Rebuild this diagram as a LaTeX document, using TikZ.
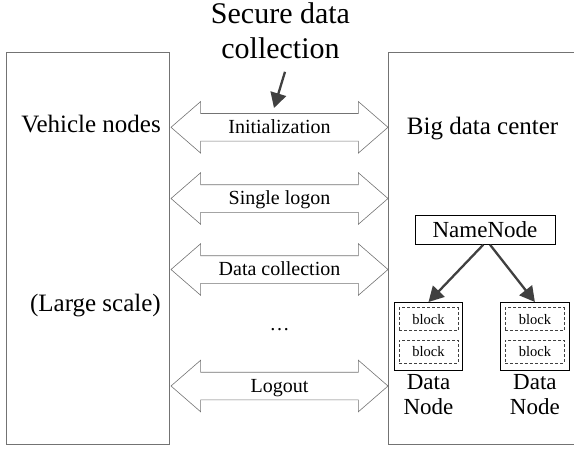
\documentclass[tikz,border=0pt]{standalone}
\usepackage{fontspec}
\setmainfont{Liberation Serif}
\usetikzlibrary{shapes.arrows,positioning,calc,arrows.meta}
\definecolor{boxgray}{rgb}{0.45,0.45,0.45}
\definecolor{arrowgray}{rgb}{0.25,0.25,0.25}

\begin{document}
\begin{tikzpicture}[x=1pt,y=-1pt,
  every node/.style={inner sep=0pt},
  side/.style={draw=boxgray,line width=0.8pt,minimum width=162.6pt,minimum height=392pt},
  pipe/.style={double arrow,draw=boxgray,line width=0.6pt,minimum height=217pt,
    double arrow head extend=12pt,double arrow tip angle=82,
    inner ysep=4.5pt,text height=15pt,text depth=3pt,font=\fontsize{20}{24}\selectfont},
  hdfs/.style={draw,line width=0.7pt},
  blockbox/.style={draw=arrowgray,line width=0.6pt,dash pattern=on 3pt off 2pt,
    minimum width=59pt,minimum height=23pt,font=\fontsize{14.5}{16}\selectfont},
  feed/.style={draw=arrowgray,line width=2.3pt,-{Triangle[length=15pt,width=16pt]}}]

\useasboundingbox (0,0) rectangle (574,451);

% the two sides
\node[side] (vehicle) at (88,248.4) {};
\node[side,minimum width=192pt] (center) at (484.3,248.4) {};

\node[anchor=base east,font=\fontsize{25}{30}\selectfont] (vn) at (161,132.7) {Vehicle nodes};
\node[anchor=base east,font=\fontsize{25}{30}\selectfont] (ls) at (161,311) {(Large scale)};
\node[anchor=base west,font=\fontsize{25}{30}\selectfont] (bdc) at (406.7,134) {Big data center};

% protocol phases
\node[pipe] (init) at (279.5,127.3) {Initialization};
\node[pipe] (logon) at (279.5,198.5) {Single logon};
\node[pipe] (collect) at (279.5,269.5) {Data collection};
\node[anchor=base,font=\fontsize{20}{24}\selectfont] (dots) at (279.5,330) {\dots};
\node[pipe] (logout) at (279.5,386) {Logout};

\node[align=center,anchor=north,font=\fontsize{30}{35}\selectfont] (title) at (280.5,2.5) {Secure data\\collection};
\draw[feed] ($(title.south)+(4.5,12.8)$) -- ($(init.center)+(-5.5,-19.3)$);

% hdfs inside the center
\node[hdfs,minimum width=140pt,minimum height=29.3pt,font=\fontsize{23}{26}\selectfont] (nn) at (485,229.7) {NameNode};
\node[hdfs,minimum width=68.4pt,minimum height=67.7pt] (dn1) at (428.5,336.2) {};
\node[hdfs,minimum width=68.4pt,minimum height=67.7pt] (dn2) at (534.9,336.2) {};
\node[blockbox,below=5.4pt of dn1.north] (blk1a) {block};
\node[blockbox,below=8.6pt of blk1a] (blk1b) {block};
\node[blockbox,below=5.4pt of dn2.north] (blk2a) {block};
\node[blockbox,below=8.6pt of blk2a] (blk2b) {block};
\node[align=center,font=\fontsize{23}{25}\selectfont,below=4pt of dn1] (dn1lbl) {Data\\Node};
\node[align=center,font=\fontsize{23}{25}\selectfont,below=4pt of dn2] (dn2lbl) {Data\\Node};

\draw[feed] ($(nn.south)+(-1.7,0)$) -- (dn1.north);
\draw[feed] ($(nn.south)+(5,0)$) -- (dn2.north);
\end{tikzpicture}
\end{document}
